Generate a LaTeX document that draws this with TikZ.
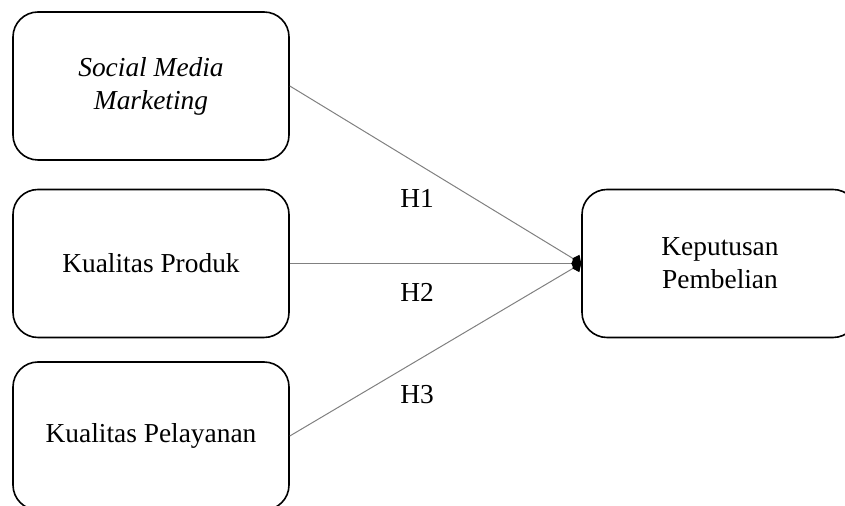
\documentclass[tikz,border=0pt]{standalone}
\usepackage{fontspec}
\setmainfont{Liberation Serif}
\usetikzlibrary{arrows.meta,positioning}

\begin{document}
\begin{tikzpicture}[x=0.5pt,y=-0.5pt,
  every node/.style={font=\fontsize{13.7}{16.5}\selectfont},
  kotak/.style={draw,line width=0.8pt,rounded corners=12.5pt,
    minimum width=138pt,minimum height=74pt,align=center,inner sep=0pt},
  panah/.style={draw=gray,line width=0.5pt,
    -{Kite[black,length=5pt,width=6.5pt,inset=2pt]}}]

  % Rahmen
  \useasboundingbox (0,0) rectangle (845,506);
  \clip (0,0) rectangle (845,506);

  % Variabel bebas
  \node[kotak] (smm) at (151,86) {\textit{Social Media}\\\textit{Marketing}};
  \node[kotak] (kp)  at (151,263.5) {Kualitas Produk};
  \node[kotak] (kpl) at (151,436) {Kualitas Pelayanan};

  % Variabel terikat
  \node[kotak] (kep) at (720,263.5) {Keputusan\\Pembelian};

  % Hipotesis
  \draw[panah] (smm.east) -- (kep.west);
  \draw[panah] (kp.east)  -- (kep.west);
  \draw[panah] (kpl.east) -- (kep.west);

  \node (h1) at (417,198) {H1};
  \node (h2) at (417,292) {H2};
  \node (h3) at (417,395) {H3};

\end{tikzpicture}
\end{document}
